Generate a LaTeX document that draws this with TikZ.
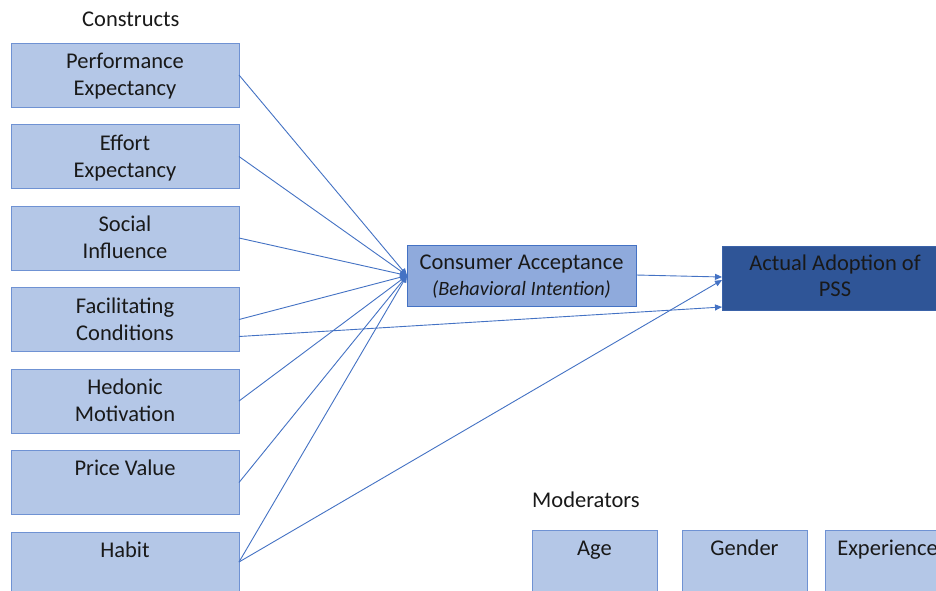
\documentclass[tikz,border=0pt]{standalone}
\usepackage{fontspec}
\setmainfont{Carlito}
\usetikzlibrary{arrows.meta}
\definecolor{boxfill}{HTML}{B4C7E7}
\definecolor{boxline}{HTML}{6F92D3}
\definecolor{midfill}{HTML}{8FAADC}
\definecolor{midline}{HTML}{4472C4}
\definecolor{darkfill}{HTML}{2F5597}
\definecolor{darkline}{HTML}{3A62A8}
\definecolor{wire}{HTML}{4472C4}

\begin{document}
\begin{tikzpicture}[x=1pt,y=-1pt,
  lbox/.style={draw=boxline, fill=boxfill, line width=1pt, minimum width=228pt,
    minimum height=64pt, anchor=north west, inner sep=0pt, outer sep=0pt},
  mbox/.style={draw=boxline, fill=boxfill, line width=1pt, minimum width=125pt,
    minimum height=64pt, anchor=north west, inner sep=0pt, outer sep=0pt},
  txt/.style={anchor=base, inner sep=0pt, text=black!90, font=\fontsize{22.5}{27}\selectfont},
  head/.style={anchor=base west, inner sep=0pt, text=black!90, font=\fontsize{22.5}{27}\selectfont},
  conn/.style={draw=wire, line width=0.9pt, -{Triangle[length=7pt,width=6pt]}},
]
\clip (0,0) rectangle (936,590);
\fill[white] (0,0) rectangle (936,590);

% headings
\node[head] (constructs) at (82,26) {Constructs};
\node[head] (moderators) at (532,507) {Moderators};

% construct boxes
\node[lbox] (pe) at (11,43) {};
\node[txt] (pe1) at ([yshift=-25.5pt]pe.north) {Performance};
\node[txt] (pe2) at ([yshift=-52.5pt]pe.north) {Expectancy};

\node[lbox] (ee) at (11,124.5) {};
\node[txt] (ee1) at ([yshift=-25.5pt]ee.north) {Effort};
\node[txt] (ee2) at ([yshift=-52.5pt]ee.north) {Expectancy};

\node[lbox] (si) at (11,206) {};
\node[txt] (si1) at ([yshift=-25.5pt]si.north) {Social};
\node[txt] (si2) at ([yshift=-52.5pt]si.north) {Influence};

\node[lbox] (fc) at (11,287.5) {};
\node[txt] (fc1) at ([yshift=-25.5pt]fc.north) {Facilitating};
\node[txt] (fc2) at ([yshift=-52.5pt]fc.north) {Conditions};

\node[lbox] (hm) at (11,369) {};
\node[txt] (hm1) at ([yshift=-25.5pt]hm.north) {Hedonic};
\node[txt] (hm2) at ([yshift=-52.5pt]hm.north) {Motivation};

\node[lbox] (pv) at (11,450.5) {};
\node[txt] (pv1) at ([yshift=-25pt]pv.north) {Price Value};

\node[lbox] (hb) at (11,532) {};
\node[txt] (hb1) at ([yshift=-25pt]hb.north) {Habit};

% intention and adoption
\node[draw=midline, fill=midfill, line width=1pt, minimum width=229pt,
  minimum height=61pt, anchor=north west, inner sep=0pt, outer sep=0pt] (ca) at (407,245) {};
\node[txt] (ca1) at ([yshift=-24pt]ca.north) {Consumer Acceptance};
\node[txt, font=\fontsize{20.3}{24}\selectfont\itshape] (ca2) at ([yshift=-50pt]ca.north) {(Behavioral Intention)};

\node[draw=darkline, fill=darkfill, line width=1pt, minimum width=226pt,
  minimum height=64pt, anchor=north west, inner sep=0pt, outer sep=0pt] (aa) at (722,246) {};
\node[txt] (aa1) at ([yshift=-24pt]aa.north) {Actual Adoption of};
\node[txt] (aa2) at ([yshift=-50.5pt]aa.north) {PSS};

% moderator boxes
\node[mbox] (age) at (532,530) {};
\node[txt] (age1) at ([yshift=-25pt]age.north) {Age};
\node[mbox] (gen) at (682,530) {};
\node[txt] (gen1) at ([yshift=-25pt]gen.north) {Gender};
\node[mbox] (exp) at (825,530) {};
\node[txt] (exp1) at ([yshift=-25pt]exp.north) {Experience};

% connectors
\draw[conn] (pe.east) -- (ca.west);
\draw[conn] (ee.east) -- (ca.west);
\draw[conn] (si.east) -- (ca.west);
\draw[conn] (fc.east) -- (ca.west);
\draw[conn] (hm.east) -- (ca.west);
\draw[conn] (pv.east) -- (ca.west);
\draw[conn] ([yshift=2pt]hb.east) -- (ca.west);
\draw[conn] ([yshift=0.5pt]ca.east) -- ([yshift=1pt]aa.west);
\draw[conn] ([yshift=2pt]hb.east) -- ([yshift=-2pt]aa.west);
\draw[conn] ([yshift=-17pt]fc.east) -- ([yshift=3pt]aa.south west);
\end{tikzpicture}
\end{document}
